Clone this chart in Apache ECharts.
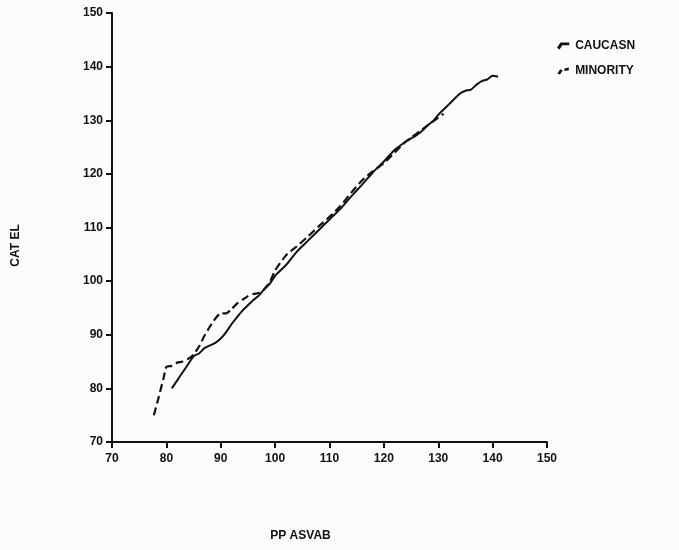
<!DOCTYPE html>
<html>
<head>
<meta charset="utf-8">
<script src="https://cdn.jsdelivr.net/npm/echarts@6/dist/echarts.min.js"></script>
<style>
html,body{margin:0;padding:0;background:#fcfcfd;}
#c{width:679px;height:550px;}
</style>
</head>
<body>
<div id="c"></div>
<script>
const seriesNames = ['CAUCASN', 'MINORITY'];
const xTicks = [70, 80, 90, 100, 110, 120, 130, 140, 150];
const yTicks = [70, 80, 90, 100, 110, 120, 130, 140, 150];

const caucX = [81, 82, 83, 84, 85, 86, 87, 88, 89, 90, 91, 92, 93, 94, 95, 96, 97, 98, 99, 100, 102, 104, 106, 108, 110, 112, 114, 116, 118, 120, 122, 124, 125, 126, 127, 128, 129, 130, 132, 134, 135, 136, 137, 138, 139, 140, 141];
const caucY = [80, 81.5, 83, 84.5, 86, 86.5, 87.5, 88, 88.5, 89.3, 90.5, 92, 93.3, 94.5, 95.5, 96.5, 97.3, 98.5, 99.5, 101, 103, 105.5, 107.5, 109.5, 111.5, 113.5, 115.8, 118, 120.3, 122.3, 124.5, 126, 126.6, 127.2, 128, 129, 129.8, 131, 133, 135, 135.5, 135.7, 136.6, 137.3, 137.6, 138.3, 138.1];

const minX = [77.7, 78.5, 79.5, 80, 81, 82, 83, 84, 85, 86, 87, 88, 89, 90, 91, 92, 93, 94, 95, 96, 97, 98, 99, 100, 102, 104, 106, 108, 110, 112, 114, 116, 118, 120, 122, 124, 126, 128, 130, 131];
const minY = [75, 78, 82, 84, 84.2, 84.8, 85, 85.5, 86.3, 87.8, 89.8, 91.5, 93, 94, 94, 94.8, 95.8, 96.5, 97.2, 97.6, 97.8, 98.5, 99.8, 102, 104.8, 106.5, 108.3, 110.2, 112, 114, 116.5, 118.8, 120.5, 122, 124, 126, 127.5, 129, 130.5, 131.2];

const zip = (xs, ys) => xs.map((x, i) => [x, ys[i]]);

const FONT = 'Liberation Sans, Arial, sans-serif';
const chart = echarts.init(document.getElementById('c'));
const labelStyle = { color: '#111', fontSize: 12, fontWeight: 'bold', fontFamily: FONT };
chart.setOption({
  backgroundColor: '#fcfcfd',
  animation: false,
  grid: { left: 112, right: 132, top: 13, bottom: 108 },
  legend: {
    orient: 'vertical',
    left: 552,
    top: 35,
    itemWidth: 14,
    itemHeight: 7,
    itemGap: 13,
    data: [
      { name: seriesNames[0], icon: 'path://M0,6 L4,0 L14,0 L14,3 L6,3 L3,8 Z' },
      { name: seriesNames[1], icon: 'path://M0,7 L3,2 L6,3 L3,8 Z M8,1 L13,0 L13,3 L8,4 Z' }
    ],
    textStyle: labelStyle
  },
  xAxis: {
    type: 'value', min: xTicks[0], max: xTicks[xTicks.length - 1], interval: 10,
    name: 'PP ASVAB', nameLocation: 'middle', nameGap: 88,
    nameTextStyle: { color: '#111', fontSize: 12, fontWeight: 'bold', fontFamily: FONT, padding: [0, 58, 0, 0] },
    axisLine: { lineStyle: { color: '#111', width: 2 } },
    axisTick: { show: true, length: 6, lineStyle: { color: '#111', width: 2 } },
    axisLabel: Object.assign({ margin: 11 }, labelStyle),
    splitLine: { show: false }
  },
  yAxis: {
    type: 'value', min: yTicks[0], max: yTicks[yTicks.length - 1], interval: 10,
    name: 'CAT EL', nameLocation: 'middle', nameGap: 90, nameRotate: 90,
    nameTextStyle: { color: '#111', fontSize: 12, fontWeight: 'bold', fontFamily: FONT, padding: [0, 36, 0, 0] },
    axisLine: { show: true, lineStyle: { color: '#111', width: 2 } },
    axisTick: { show: true, length: 6, lineStyle: { color: '#111', width: 2 } },
    axisLabel: Object.assign({ margin: 9 }, labelStyle),
    splitLine: { show: false }
  },
  series: [
    {
      name: seriesNames[0], type: 'line', symbol: 'none', smooth: 0.2,
      data: zip(caucX, caucY),
      lineStyle: { color: '#111', width: 2, type: 'solid' },
      itemStyle: { color: '#111' }
    },
    {
      name: seriesNames[1], type: 'line', symbol: 'none', smooth: 0.2,
      data: zip(minX, minY),
      lineStyle: { color: '#111', width: 2.2, type: [8, 4] },
      itemStyle: { color: '#111' }
    }
  ]
});
</script>
</body>
</html>
